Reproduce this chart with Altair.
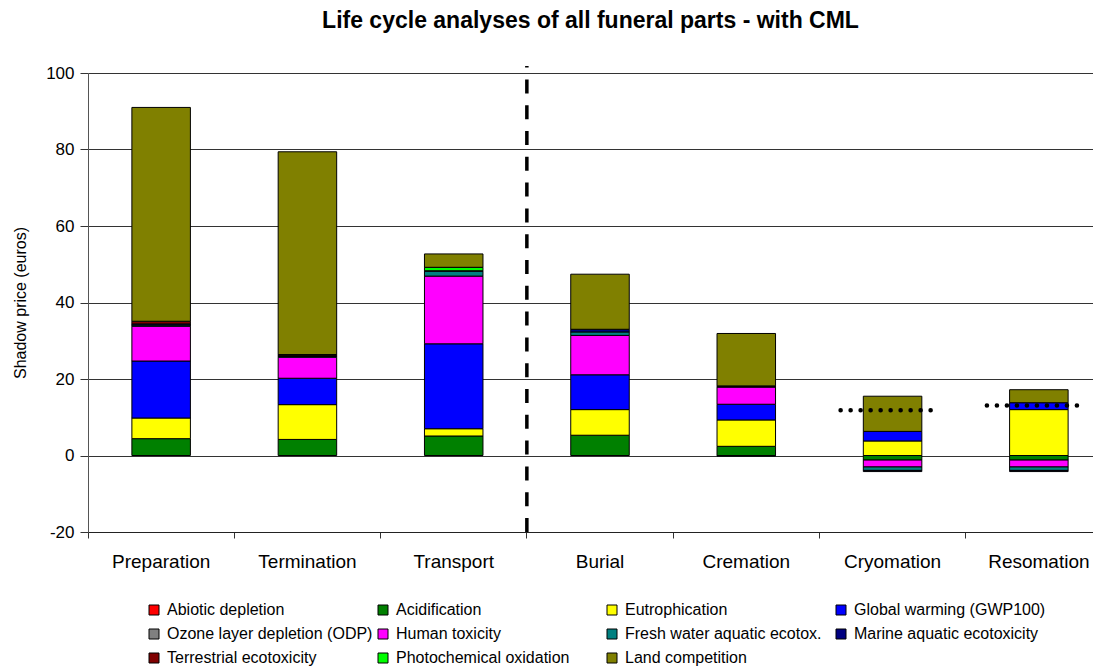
import altair as alt
import pandas as pd

stages = ["Preparation", "Termination", "Transport", "Burial", "Cremation", "Cryomation", "Resomation"]
impacts = [
    "Abiotic depletion", "Acidification", "Eutrophication", "Global warming (GWP100)",
    "Ozone layer depletion (ODP)", "Human toxicity", "Fresh water aquatic ecotox.",
    "Marine aquatic ecotoxicity", "Terrestrial ecotoxicity", "Photochemical oxidation",
    "Land competition",
]
colors = ["#FF0000", "#008000", "#FFFF00", "#0000FF", "#808080", "#FF00FF",
          "#008080", "#000080", "#800000", "#00FF00", "#808000"]

# values per stage (euros)
abiotic = [0, 0, 0, 0, 0, 0, 0]
acidification = [4.4, 4.2, 5.1, 5.3, 2.4, -1.2, -1.2]
eutrophication = [5.4, 9.1, 1.9, 6.7, 6.9, 3.8, 12.0]
global_warming = [14.9, 6.9, 22.2, 9.1, 4.1, 2.5, 1.8]
ozone = [0, 0, 0, 0, 0, 0, 0]
human_tox = [9.1, 5.5, 17.7, 10.3, 4.5, -1.8, -1.8]
fresh_water = [0.3, 0.2, 1.3, 0.9, -0.2, -0.9, -0.9]
marine = [0.3, 0.2, 0.1, 0.7, 0.1, -0.3, -0.3]
terrestrial = [0.7, 0.3, 0.0, 0.0, 0.2, 0.0, 0.0]
photochem = [0.0, 0.0, 0.9, 0.0, 0.0, 0.0, 0.0]
land = [55.9, 53.0, 3.5, 14.4, 13.7, 9.2, 3.4]

series = [abiotic, acidification, eutrophication, global_warming, ozone, human_tox,
          fresh_water, marine, terrestrial, photochem, land]

ref_stages = ["Cryomation", "Resomation"]
ref_values = [11.8, 13.1]

divider_stage = "Burial"
divider_range = [-20, 101.8]

y_ticks = [-20, 0, 20, 40, 60, 80, 100]

rows = []
for i, name in enumerate(impacts):
    for s, v in zip(stages, series[i]):
        if v != 0:
            rows.append({"stage": s, "impact": name, "order": i, "value": v})
df = pd.DataFrame(rows)

FONT = "Liberation Sans"

x_scale = alt.Scale(domain=stages, range=[0, 1024], paddingInner=0, paddingOuter=0)
y_scale = alt.Scale(domain=[-20, 100], nice=False, zero=False)

bars = alt.Chart(df).mark_bar(width={"band": 0.4}, stroke="black", strokeWidth=1).encode(
    x=alt.X("stage:N", sort=stages, scale=x_scale,
            axis=alt.Axis(title=None, labelAngle=0, labelFontSize=19, labelPadding=14,
                          tickSize=6, bandPosition=0, domainColor="#222", tickColor="#333",
                          grid=False, labelLimit=0)),
    y=alt.Y("value:Q", scale=y_scale, stack="zero",
            axis=alt.Axis(values=y_ticks, title="Shadow price (euros)", grid=True,
                          gridColor="#333", gridWidth=1, domainColor="#555",
                          tickColor="#333", tickSize=8, labelFontSize=17, labelPadding=6,
                          titleFontSize=16, titleFontWeight="normal", titlePadding=17,
                          labelExpr="'' + datum.value")),
    color=alt.Color("impact:N", scale=alt.Scale(domain=impacts, range=colors),
                    legend=alt.Legend(title=None, orient="none", legendX=58, legendY=529,
                                      direction="horizontal", columns=4, gridAlign="all",
                                      columnPadding=2, rowPadding=8, symbolType="square",
                                      symbolSize=100, symbolStrokeColor="black",
                                      symbolStrokeWidth=1, labelFontSize=16, labelFont=FONT,
                                      labelColor="black", labelOffset=5, labelLimit=0,
                                      padding=0)),
    order=alt.Order("order:Q", sort="ascending"),
)

ref_df = pd.DataFrame({"stage": ref_stages, "value": ref_values})
dots = alt.Chart(ref_df).mark_rule(strokeDash=[0.1, 9.9], strokeCap="round", strokeWidth=4.5,
                                   color="black", xOffset=-52, x2Offset=45).encode(
    x=alt.X("stage:N", sort=stages, bandPosition=0.5),
    x2=alt.X2("stage", bandPosition=0.5),
    y=alt.Y("value:Q", title="Shadow price (euros)"),
)

div_df = pd.DataFrame({"stage": [divider_stage], "bottom": [divider_range[0]],
                       "top": [divider_range[1]]})
divider = alt.Chart(div_df).mark_rule(strokeDash=[14, 11.8], strokeWidth=3.5, color="black").encode(
    x=alt.X("stage:N", sort=stages, bandPosition=0),
    y=alt.Y("bottom:Q", title="Shadow price (euros)"),
    y2="top:Q",
)

chart = alt.layer(bars, dots, divider).properties(
    width=1005,
    height=459,
    title=alt.Title("Life cycle analyses of all funeral parts - with CML"),
    autosize=alt.AutoSizeParams(type="none"),
    padding={"left": 80, "top": 65, "right": 0, "bottom": 136},
).configure_view(stroke=None).configure_axis(
    labelFont=FONT, titleFont=FONT, labelColor="black", titleColor="black"
).configure_title(
    font=FONT, fontSize=23, fontWeight="bold", color="black", offset=31, anchor="middle"
)

chart.save("out.html", embed_options={"renderer": "svg", "actions": False})
